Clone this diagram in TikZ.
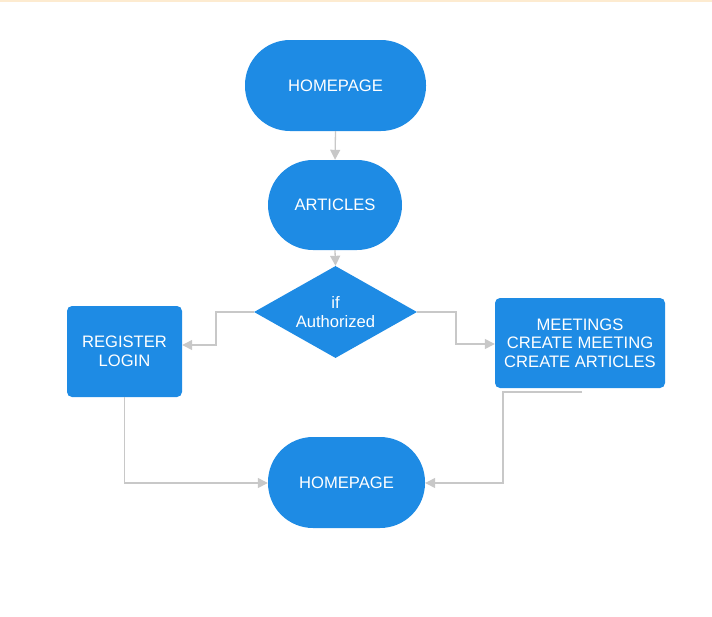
\documentclass[tikz,border=0pt]{standalone}
\usepackage{fontspec}
\setmainfont{Liberation Sans}
\usetikzlibrary{arrows.meta,shapes.geometric}
\definecolor{nodeblue}{RGB}{30,139,228}
\definecolor{linegray}{RGB}{200,200,200}
\definecolor{topline}{RGB}{253,235,208}
\begin{document}
\begin{tikzpicture}[x=1pt,y=-1pt,
  base/.style={fill=nodeblue,draw=none,text=white,font=\fontsize{16.6}{18.5}\selectfont,align=center,inner sep=0pt},
  pill/.style={base,rounded corners=45pt},
  boxnode/.style={base,rounded corners=5pt},
  conn/.style={draw=linegray,line width=1.3pt,-{Triangle[length=10pt,width=10pt]}},
  plainconn/.style={draw=linegray,line width=1.3pt}]
\useasboundingbox (0,0) rectangle (712,616);
\fill[topline] (0,0) rectangle (712,1.5);
\node[pill,minimum width=181pt,minimum height=91pt] (home1) at (335.5,85.5) {HOMEPAGE};
\node[pill,minimum width=134pt,minimum height=90pt] (articles) at (335,205) {ARTICLES};
\node[base,diamond,aspect=1.77,minimum width=163pt,minimum height=92pt] (auth) at (335.5,312) {if\\Authorized};
\node[boxnode,minimum width=115pt,minimum height=91pt] (reg) at (124.5,351.5) {REGISTER\\LOGIN};
\node[boxnode,minimum width=170pt,minimum height=90pt] (meet) at (580,343) {MEETINGS\\CREATE MEETING\\CREATE ARTICLES};
\node[pill,minimum width=157pt,minimum height=91pt] (home2) at (346.5,482.5) {HOMEPAGE};
\coordinate (mstart) at (582,392);
\draw[conn] (home1.south) -- (articles.north);
\draw[conn] (articles.south) -- (auth.north);
\draw[conn] (auth.west) -- (216,312) -- (216,345) -- (reg.east |- 0,345);
\draw[conn] (auth.east) -- (456,312) -- (456,344) -- (meet.west |- 0,344);
\draw[conn] (reg.south) -- (124.5,483) -- (home2.west |- 0,483);
\draw[conn] (mstart) -- (503,392) -- (503,483) -- (home2.east |- 0,483);
\end{tikzpicture}
\end{document}
